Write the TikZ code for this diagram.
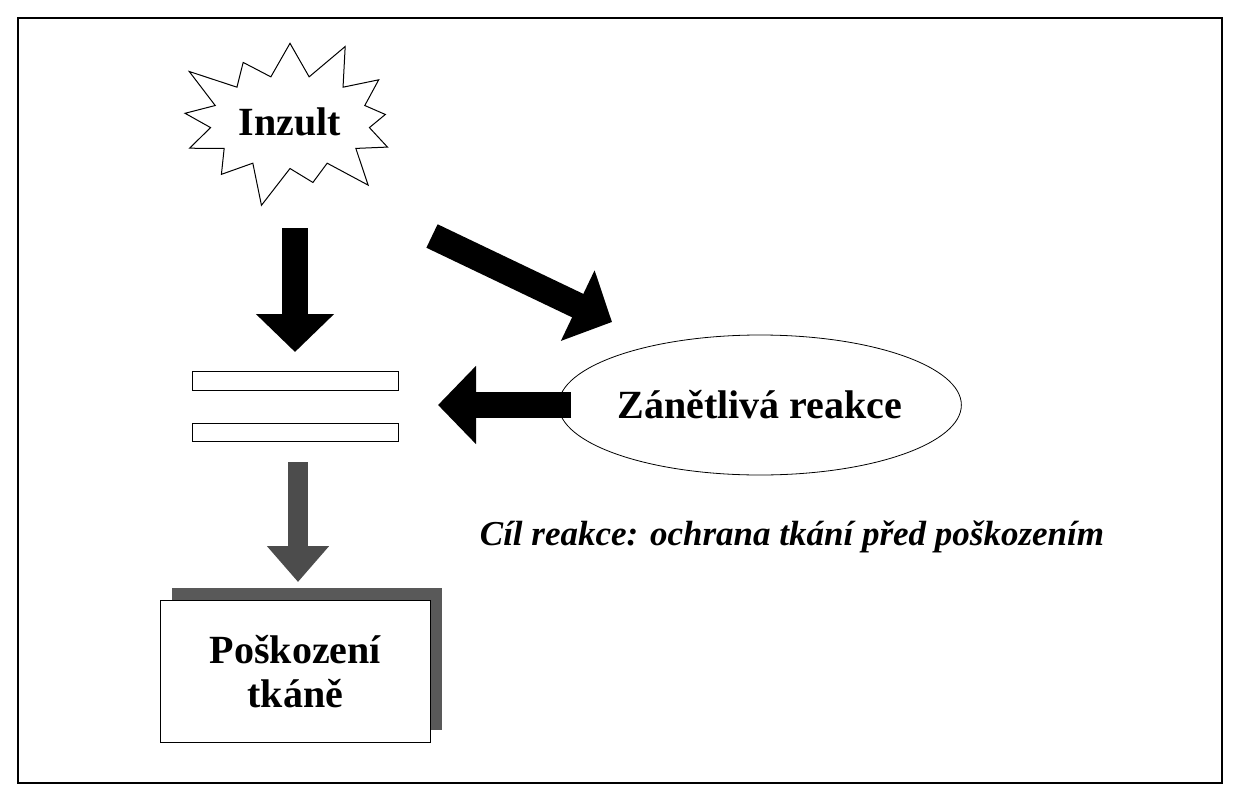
\documentclass[tikz,border=0pt]{standalone}
\usepackage{fontspec}
\setmainfont{Liberation Serif}
\usetikzlibrary{shapes.symbols,shapes.geometric,arrows.meta}
\tikzset{
  blockarrow/.style={line width=#1, -{Triangle[length=38pt,width=76pt]}},
  label/.style={font=\bfseries\fontsize{40}{44}\selectfont, align=center}
}
\begin{document}
\begin{tikzpicture}[x=1pt,y=-1pt]
  \useasboundingbox (0,0) rectangle (1239,800);
  \draw[line width=1.5pt] (18,18) rectangle (1222,783);
  % nodes
  \node[starburst, draw, line width=1pt, minimum width=250pt, minimum height=183pt,
        starburst points=13, starburst point height=45pt, label, inner sep=0pt] (inzult) at (290,122) {Inzult};
  \node[draw, line width=0.8pt, minimum width=206pt, minimum height=19pt] (bar1) at (295,381) {};
  \node[draw, line width=0.8pt, minimum width=206pt, minimum height=18pt] (bar2) at (295,432) {};
  \node[ellipse, draw, line width=0.8pt, minimum width=300pt, minimum height=140pt,
        inner sep=0pt, label] (zanet) at (760,405) {Zánětlivá reakce};
  \node[font=\bfseries\itshape\fontsize{35}{40}\selectfont] (cil) at (792,537) {Cíl reakce: ochrana tkání před poškozením};
  \fill[gray!70!black] (172,588) rectangle (442,730);
  \node[draw, fill=white, line width=0.8pt, minimum width=270pt, minimum height=142pt,
        label, anchor=north west] (poskozeni) at (160,600) {Poškození\\tkáně};
  % arrow ends
  \coordinate (a1s) at (295,228);  \coordinate (a1e) at (295,352);
  \coordinate (a2s) at (432,236);  \coordinate (a2e) at (612,322);
  \coordinate (a3s) at (571,405);  \coordinate (a3e) at (438,405);
  \coordinate (a4s) at (298,462);  \coordinate (a4e) at (298,582);
  \draw[blockarrow=26pt] (a1s) -- (a1e);
  \draw[blockarrow=26pt] (a2s) -- (a2e);
  \draw[blockarrow=26pt] (a3s) -- (a3e);
  \draw[blockarrow=20pt, gray!60!black, -{Triangle[length=36pt,width=60pt]}] (a4s) -- (a4e);
\end{tikzpicture}
\end{document}
